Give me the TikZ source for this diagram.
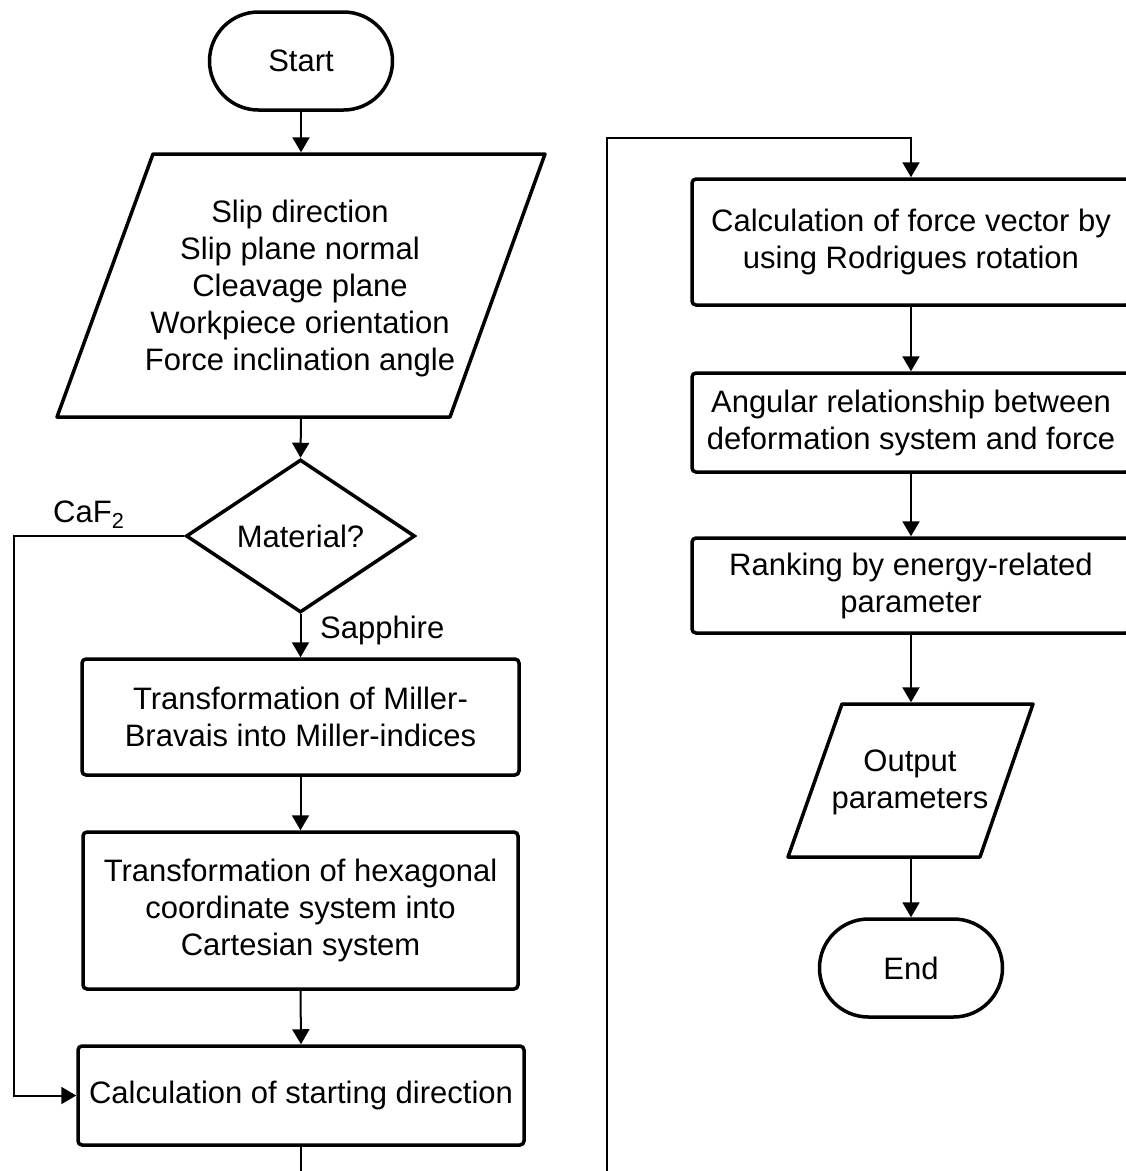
\documentclass[tikz,border=0pt]{standalone}
\usepackage{fontspec}
\setmainfont{Liberation Sans}
\usetikzlibrary{shapes.geometric,arrows.meta}
\begin{document}
\begin{tikzpicture}[x=1pt,y=-1pt,
  font=\fontsize{31}{37}\selectfont,
  box/.style={draw,line width=3.5pt,rounded corners=4pt,align=center,inner sep=0pt},
  term/.style={draw,line width=3.5pt,rounded corners=49pt,minimum width=183pt,minimum height=98pt,inner sep=0pt},
  shp/.style={draw,line width=3.5pt,line join=round},
  conn/.style={line width=2pt},
  arr/.style={conn,-{Triangle[width=17pt,length=15pt]}},
  lbl/.style={inner sep=0pt}
]
\useasboundingbox (0,0) rectangle (1126,1171);
\clip (0,0) rectangle (1126,1171);

% left column
\node[term] (start) at (301,61) {Start};

\coordinate (inTL) at (153,154);
\coordinate (inTR) at (545,154);
\coordinate (inBR) at (450,417);
\coordinate (inBL) at (57,417);
\draw[shp] (inTL) -- (inTR) -- (inBR) -- (inBL) -- cycle;
\coordinate (inTop) at (301,152.3);
\coordinate (inBot) at (301,418.7);
\node[align=center,inner sep=0pt] (input) at (300,288.5)
  {Slip direction\\Slip plane normal\\Cleavage plane\\Workpiece orientation\\Force inclination angle};

\node[diamond,draw,line width=3.5pt,minimum width=229pt,minimum height=153pt,inner sep=0pt] (mat) at (300.5,536) {Material?};

\node[box,minimum width=437pt,minimum height=116pt] (b1) at (300.5,717)
  {Transformation of Miller-\\Bravais into Miller-indices};
\node[box,minimum width=435pt,minimum height=157pt] (b2) at (300.5,910.5)
  {Transformation of hexagonal\\coordinate system into\\Cartesian system};
\node[box,minimum width=446pt,minimum height=99pt] (b3) at (301,1095.5)
  {Calculation of starting direction};

\node[lbl,anchor=base west] (caf) at (53,522) {CaF\textsubscript{2}};
\node[lbl,anchor=base west] (sap) at (320,638) {Sapphire};

% right column
\node[box,minimum width=438pt,minimum height=126pt] (r1) at (911,242)
  {Calculation of force vector by\\using Rodrigues rotation};
\node[box,minimum width=438pt,minimum height=99pt] (r2) at (911,422.5)
  {Angular relationship between\\deformation system and force};
\node[box,minimum width=438pt,minimum height=95pt] (r3) at (911,585.5)
  {Ranking by energy-related\\parameter};

\coordinate (oTL) at (842,704);
\coordinate (oTR) at (1033,704);
\coordinate (oBR) at (980,857);
\coordinate (oBL) at (788,857);
\draw[shp] (oTL) -- (oTR) -- (oBR) -- (oBL) -- cycle;
\coordinate (outTop) at (911,702.3);
\coordinate (outBot) at (911,858.7);
\node[align=center,inner sep=0pt] (output) at (910,782.5) {Output\\parameters};

\node[term] (end) at (911,968) {End};

% connectors
\draw[arr] (start.south) -- (inTop);
\draw[arr] (inBot) -- (mat.north);
\draw[arr] (mat.south) -- (b1.north);
\draw[arr] (b1.south) -- (b2.north);
\draw[arr] (b2.south) -- (b3.north);
\coordinate (cl) at (14,1095.5);
\draw[arr] (mat.west) -| (cl) -- (b3.west);
\coordinate (lb) at (607,1200);
\coordinate (lt) at (607,138);
\draw[arr] (b3.south) |- (lb) -- (lt) -| (r1.north);
\draw[arr] (r1.south) -- (r2.north);
\draw[arr] (r2.south) -- (r3.north);
\draw[arr] (r3.south) -- (outTop);
\draw[arr] (outBot) -- (end.north);
\end{tikzpicture}
\end{document}
